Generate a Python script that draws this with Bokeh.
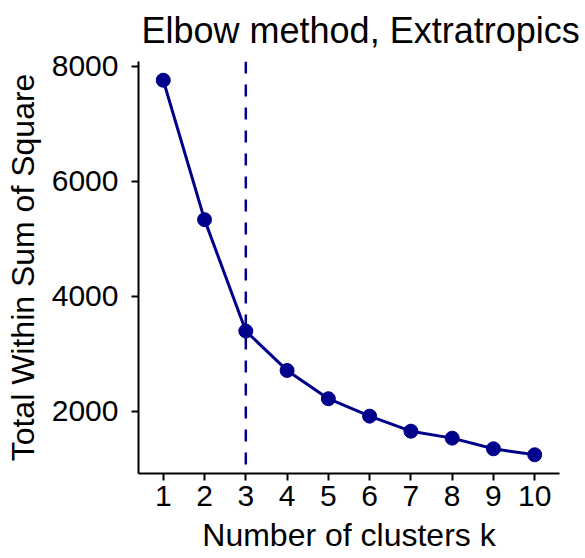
from bokeh.plotting import figure
from bokeh.models import Range1d, FixedTicker, Span, ColumnDataSource
from bokeh.embed import file_html
from bokeh.resources import INLINE

# data
k_values = [1, 2, 3, 4, 5, 6, 7, 8, 9, 10]
wss = [7757, 5334, 3397, 2713, 2221, 1918, 1657, 1536, 1351, 1247]
x_ticks = [1, 2, 3, 4, 5, 6, 7, 8, 9, 10]
y_ticks = [2000, 4000, 6000, 8000]
optimal_k = 3
title_text = "Elbow method, Extratropics"
x_label = "Number of clusters k"
y_label = "Total Within Sum of Square"

FONT = "Liberation Sans"
COLOR = "#00008B"

src = ColumnDataSource(dict(k=k_values, wss=wss))

p = figure(width=585, height=558, output_backend="svg", toolbar_location=None,
           x_range=Range1d(0.4, 10.6), y_range=Range1d(921.5, 8082.5),
           title=title_text)
p.frame_width = 421
p.frame_height = 412
p.min_border_left = 138
p.min_border_top = 61
p.min_border_right = 26
p.min_border_bottom = 85
p.outline_line_color = None
p.xgrid.visible = False
p.ygrid.visible = False
p.background_fill_color = "white"
p.border_fill_color = "white"

p.title.text_font = FONT
p.title.text_font_size = "36px"
p.title.text_font_style = "normal"
p.title.text_color = "black"
p.title.align = "left"
p.title.vertical_align = "top"
p.title.offset = 3
p.title.standoff = 17

for ax in (p.xaxis[0], p.yaxis[0]):
    ax.axis_line_color = "black"
    ax.axis_line_width = 2
    ax.major_tick_line_color = "black"
    ax.major_tick_line_width = 2
    ax.major_tick_out = 7
    ax.major_tick_in = 0
    ax.minor_tick_line_color = None
    ax.major_label_text_font = FONT
    ax.major_label_text_font_size = "30px"
    ax.major_label_text_color = "black"
    ax.axis_label_text_font = FONT
    ax.axis_label_text_font_size = "32px"
    ax.axis_label_text_font_style = "normal"
    ax.axis_label_text_color = "black"

p.xaxis.ticker = FixedTicker(ticks=x_ticks)
p.yaxis.ticker = FixedTicker(ticks=y_ticks)
p.xaxis.axis_label = x_label
p.yaxis.axis_label = y_label
p.xaxis.major_label_standoff = 5
p.yaxis.major_label_standoff = 13
p.xaxis.axis_label_standoff = 8
p.yaxis.axis_label_standoff = 8

p.line("k", "wss", source=src, line_color=COLOR, line_width=3)
p.scatter("k", "wss", source=src, size=14, fill_color=COLOR, line_color=COLOR)

vline = Span(location=optimal_k, dimension="height", line_color=COLOR,
             line_width=2.5, line_dash="12 11")
p.add_layout(vline)

open("out.html", "w").write(file_html(p, INLINE))
